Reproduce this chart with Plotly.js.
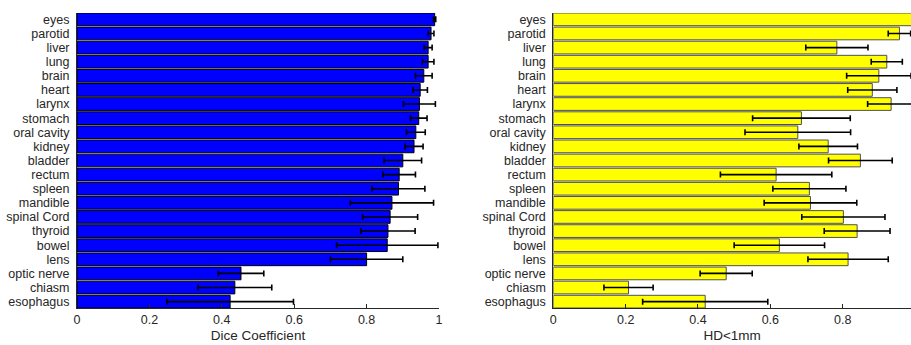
<!DOCTYPE html>
<html><head><meta charset="utf-8">
<script src="https://cdn.plot.ly/plotly-3.0.1.min.js"></script>
<style>html,body{margin:0;padding:0;background:#fff}#chart{width:911px;height:345px}</style>
</head><body><div id="chart"></div>
<script>
var organs = ["eyes","parotid","liver","lung","brain","heart","larynx","stomach","oral cavity","kidney","bladder","rectum","spleen","mandible","spinal Cord","thyroid","bowel","lens","optic nerve","chiasm","esophagus"];
var diceMean = [0.988,0.978,0.970,0.970,0.958,0.948,0.946,0.944,0.936,0.931,0.900,0.890,0.888,0.870,0.865,0.859,0.857,0.800,0.453,0.436,0.423];
var diceStd  = [0.003,0.008,0.011,0.016,0.023,0.020,0.044,0.023,0.026,0.025,0.052,0.045,0.073,0.115,0.076,0.075,0.140,0.100,0.063,0.102,0.175];
var hdMean = [1.000,0.957,0.784,0.922,0.900,0.882,0.934,0.686,0.676,0.760,0.849,0.616,0.708,0.711,0.802,0.840,0.625,0.815,0.478,0.208,0.420];
var hdStd  = [0.000,0.031,0.086,0.043,0.089,0.068,0.065,0.135,0.146,0.081,0.088,0.154,0.101,0.128,0.115,0.091,0.125,0.111,0.072,0.068,0.173];
var xTicksLeft = [0,0.2,0.4,0.6,0.8,1];
var xTicksRight = [0,0.2,0.4,0.6,0.8];

var W = 911;
var tickFont = {family: "Liberation Sans, Arial, sans-serif", size: 12.5, color: "#262626"};
var traces = [
  {type:"bar", orientation:"h", y:organs, x:diceMean, xaxis:"x", yaxis:"y",
   marker:{color:"#0000FF", line:{color:"#000000", width:1}}, width:0.9,
   error_x:{type:"data", array:diceStd, visible:true, color:"#000000", thickness:1.6, width:3}},
  {type:"bar", orientation:"h", y:organs, x:hdMean, xaxis:"x2", yaxis:"y2",
   marker:{color:"#FFFF00", line:{color:"#505050", width:1}}, width:0.9,
   error_x:{type:"data", array:hdStd, visible:true, color:"#000000", thickness:1.6, width:3}}
];
var yCommon = {type:"category", range:[20.45,-0.45], tickmode:"array", tickvals:organs, ticktext:organs,
  showline:true, linecolor:"#262626", linewidth:1,
  ticks:"", tickfont:tickFont, ticklabelstandoff:4, showgrid:false, zeroline:false, fixedrange:true};
var layout = {
  width:911, height:345, margin:{l:0,r:0,t:13,b:37}, showlegend:false,
  paper_bgcolor:"#fff", plot_bgcolor:"rgba(0,0,0,0)", bargap:0.1,
  font:{family:"Liberation Sans, Arial, sans-serif", color:"#262626"},
  xaxis:{domain:[77/W, 439/W], range:[0,1], tickvals:xTicksLeft, ticktext:xTicksLeft.map(String),
    ticks:"inside", ticklen:4, tickcolor:"#262626", showline:true, linecolor:"#262626", linewidth:1,
    showgrid:false, zeroline:false, tickfont:tickFont, anchor:"y",
    title:{text:"Dice Coefficient", font:{size:13.5, color:"#262626"}, standoff:4}},
  yaxis:Object.assign({}, yCommon, {domain:[0,1], anchor:"x"}),
  xaxis2:{domain:[553.3/W, 1], range:[0,(911-553.3)/361.7], tickvals:xTicksRight, ticktext:xTicksRight.map(String),
    ticks:"inside", ticklen:4, tickcolor:"#262626", showline:true, linecolor:"#262626", linewidth:1,
    showgrid:false, zeroline:false, tickfont:tickFont, anchor:"y2",
    title:{text:"HD<1mm", font:{size:13.5, color:"#262626"}, standoff:4}},
  yaxis2:Object.assign({}, yCommon, {domain:[0,1], anchor:"x2"})
};
Plotly.newPlot("chart", traces, layout, {staticPlot:true, displayModeBar:false});
</script></body></html>
